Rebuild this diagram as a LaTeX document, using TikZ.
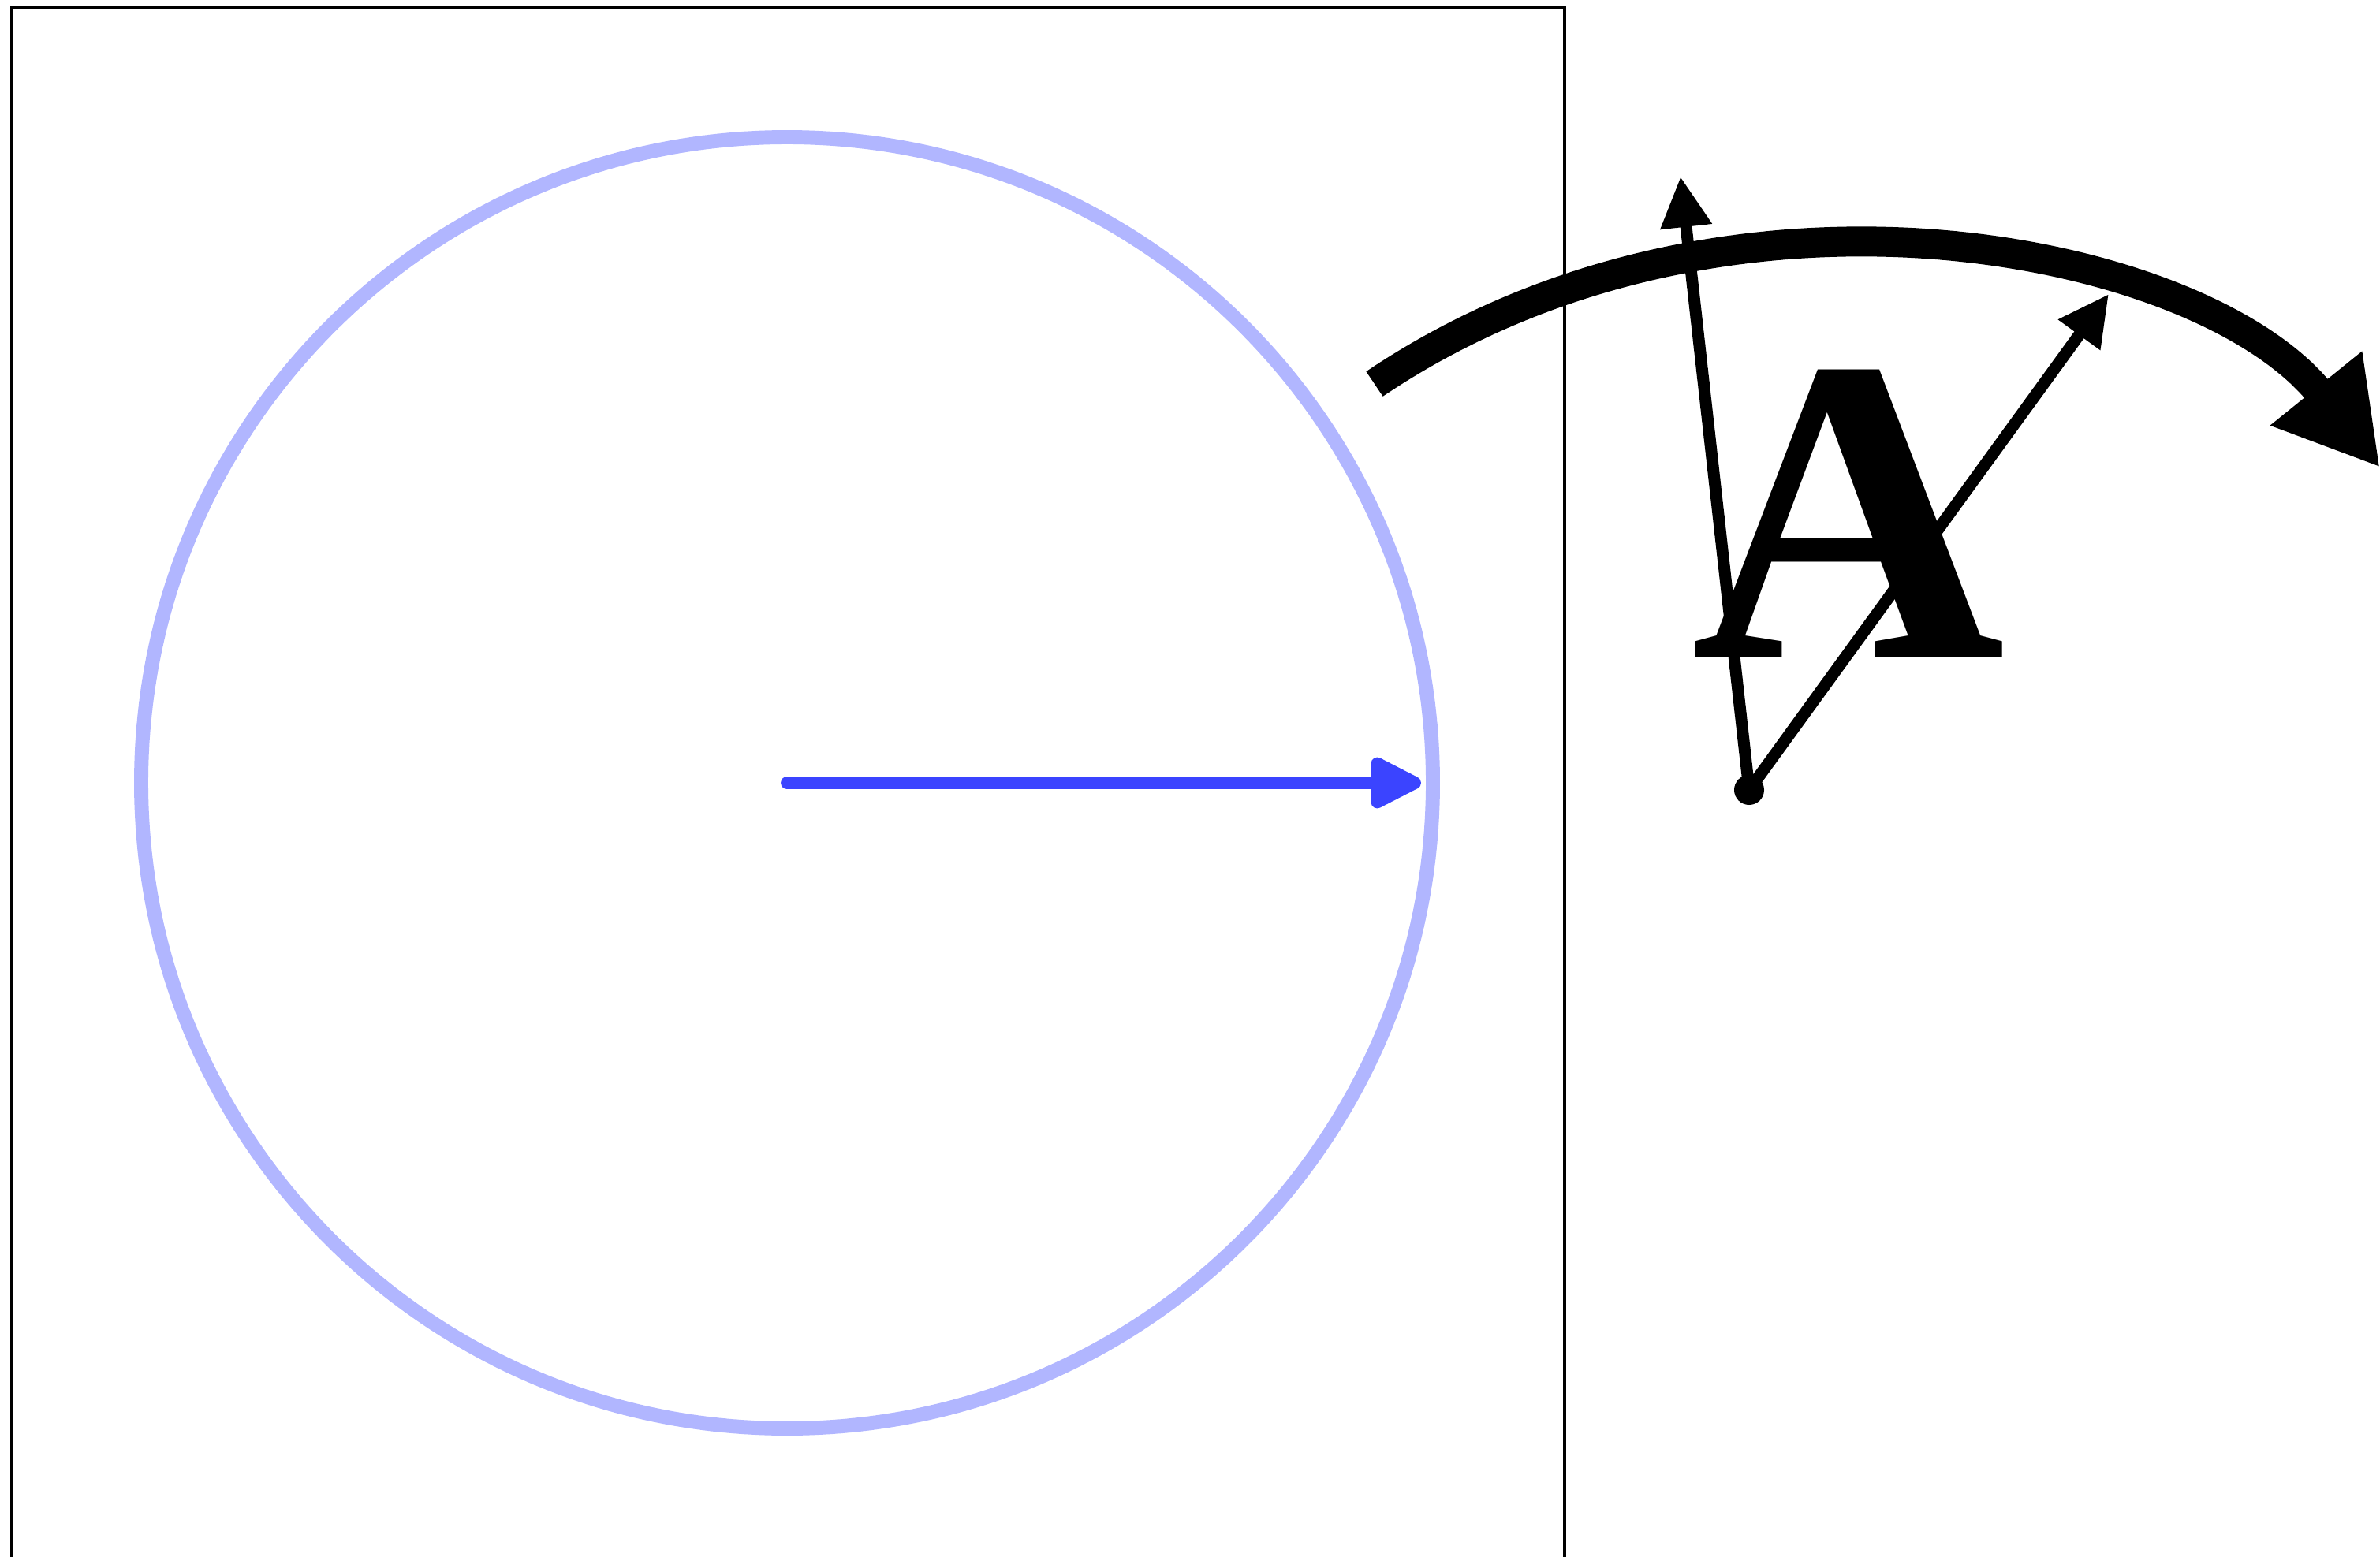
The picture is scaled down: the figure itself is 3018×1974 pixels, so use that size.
\documentclass[tikz,border=0pt]{standalone}
\usepackage{fontspec}
\usetikzlibrary{arrows.meta}
\newfontfamily\glyphfont{Liberation Serif}
\definecolor{ring}{HTML}{B1B6FF}
\definecolor{spoke}{HTML}{3B44FF}

\begin{document}
\begin{tikzpicture}[x=0.01cm,y=0.01cm,
  vec/.style={line width=4.25pt,-{Triangle[length=0.64cm,width=0.62cm]}}]
\useasboundingbox (0,0) rectangle (3018,1974);
\clip (0,0) rectangle (3018,1974);
\coordinate (centre) at (998,981);
\coordinate (rim) at (1802,981);
\coordinate (origin) at (2218,972);
\coordinate (ytip) at (2131,1750);
\coordinate (xtip) at (2674,1601);
\coordinate (swingstart) at (1743,1487);
\coordinate (swingend) at (3018,1381);
% circle and its radius
\draw[ring,line width=5.1pt] (centre) circle (819);
\draw[spoke,line width=4.5pt,line cap=round,-{Triangle[length=0.74cm,width=0.7cm,round]}] (centre) -- (rim);
\draw[line width=1.13pt] (15,-50) rectangle (1984,1965);
% rotated letter
\draw[line width=10.8pt,-{Triangle[length=1.29cm,width=1.40cm]}] (swingstart) .. controls (2191,1789) and (2792,1661) .. (swingend);
\node[inner sep=0,anchor=base] (letter) at (2344,1141) {\glyphfont\bfseries\fontsize{157}{165}\selectfont A};
\draw[vec] (origin) -- (ytip);
\draw[vec] (origin) -- (xtip);
\fill (origin) circle (19);
\end{tikzpicture}
\end{document}
